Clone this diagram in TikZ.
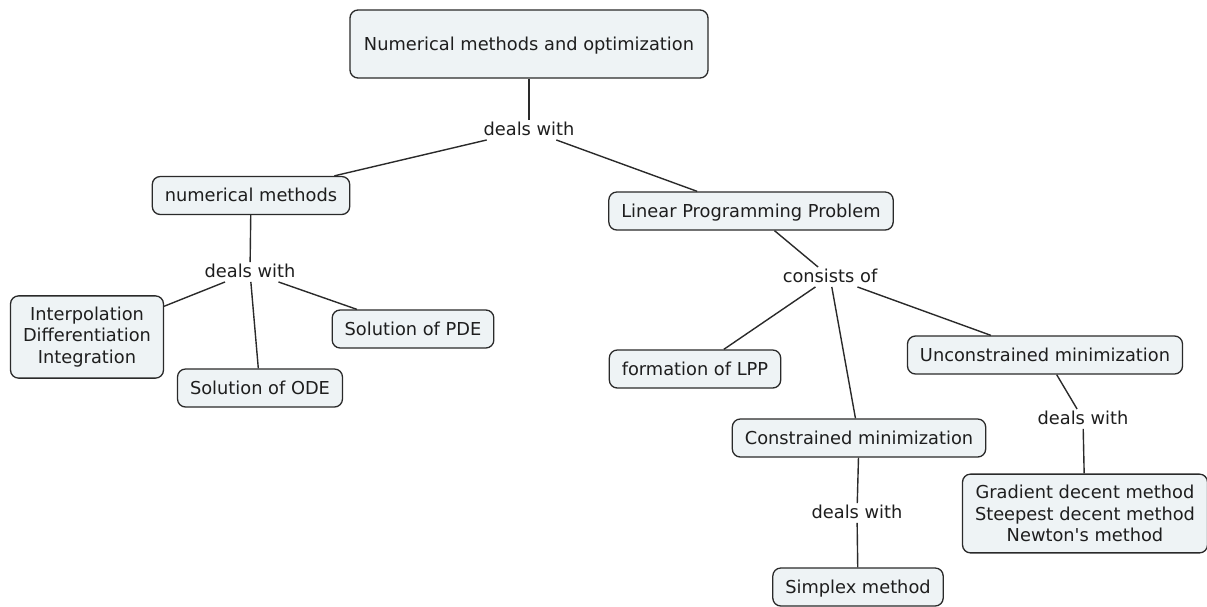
\documentclass[tikz,border=0pt]{standalone}
\usepackage{fontspec}
\usepackage{tikz}
\usetikzlibrary{positioning}
\newfontfamily\cmapsans{DejaVu Sans}
\definecolor{edge}{HTML}{2A2A2A}
\definecolor{pale}{HTML}{EEF3F5}
\definecolor{ink}{HTML}{1E1E1E}
\tikzset{concept/.style={draw=edge,fill=pale,rounded corners=8pt,line width=1.3pt,align=center,text=ink,font=\cmapsans\fontsize{17.8}{21.5}\selectfont,inner xsep=12.5pt,inner ysep=9pt,minimum height=38pt,text height=15pt,text depth=3pt}, multi/.style={text height=,text depth=,inner ysep=11pt}, link/.style={draw=edge,line width=1.4pt}, rel/.style={text=ink,font=\cmapsans\fontsize{17.8}{21.5}\selectfont,inner sep=1pt,text height=14.5pt,text depth=3pt}}

\begin{document}
\begin{tikzpicture}[x=1pt,y=-1pt]
\useasboundingbox (0,0) rectangle (1207,606);
\node[concept,minimum width=358pt,minimum height=68pt] (nmo) at (529,44) {Numerical methods and optimization};
\node[rel] (dw1) at (529,130) {deals with};
\node[concept] (nm) at (251,195.5) {numerical methods};
\node[rel] (dw2) at (250,272) {deals with};
\node[concept,multi] (interp) at (87,337) {Interpolation\\Differentiation\\Integration};
\node[concept] (ode) at (260,388) {Solution of ODE};
\node[concept] (pde) at (413,329) {Solution of PDE};
\node[concept] (lpp) at (751,211) {Linear Programming Problem};
\node[rel] (cons) at (830,277) {consists of};
\node[concept] (form) at (695,369) {formation of LPP};
\node[concept] (cmin) at (859,438) {Constrained minimization};
\node[concept] (umin) at (1045,355) {Unconstrained minimization};
\node[rel] (dw3) at (1083,419) {deals with};
\node[concept,multi] (grad) at (1085,513.5) {Gradient decent method\\Steepest decent method\\Newton's method};
\node[rel] (dw4) at (857,513) {deals with};
\node[concept] (simplex) at (858,587) {Simplex method};
\draw[link] (nmo)--(dw1);
\draw[link] (dw1)--(nm);
\draw[link] (dw1)--(lpp);
\draw[link] (nm)--(dw2);
\draw[link] (dw2)--(interp);
\draw[link] (dw2)--(ode);
\draw[link] (dw2)--(pde);
\draw[link] (lpp)--(cons);
\draw[link] (cons)--(form);
\draw[link] (cons)--(cmin);
\draw[link] (cons)--(umin);
\draw[link] (umin)--(dw3);
\draw[link] (dw3)--(grad);
\draw[link] (cmin)--(dw4);
\draw[link] (dw4)--(simplex);
\end{tikzpicture}
\end{document}
